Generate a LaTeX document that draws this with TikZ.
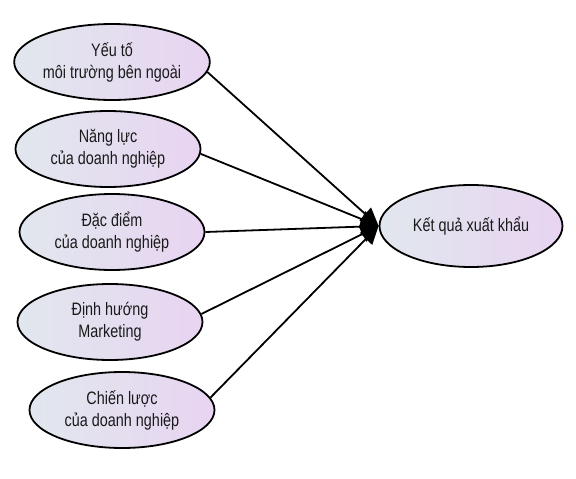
\documentclass[tikz,border=0pt]{standalone}
\usepackage{fontspec}
\setmainfont[FakeStretch=0.8]{Liberation Sans}
\usetikzlibrary{arrows.meta,shapes.geometric}
\definecolor{ellLeft}{HTML}{E1E7EE}
\definecolor{ellRight}{HTML}{E8D4F1}
\definecolor{txtGray}{HTML}{1A1A1A}

\begin{document}
\begin{tikzpicture}[
    x=1pt,y=-1pt,
    factor/.style={ellipse,draw=black,line width=1.8pt,left color=ellLeft,right color=ellRight,
                   minimum width=185pt,minimum height=76pt,inner sep=0pt,align=center,
                   font=\fontsize{18}{22}\selectfont,text=txtGray},
    arrow/.style={-{Triangle[length=18pt,width=17pt]},line width=1.8pt,draw=black}
  ]
    \useasboundingbox (0,0) rectangle (576,479);
    \node[factor] (f1) at (112,62)  {Yếu tố\\môi trường bên ngoài};
    \node[factor] (f2) at (108,149) {Năng lực\\của doanh nghiệp};
    \node[factor] (f3) at (112,232) {Đặc điểm\\của doanh nghiệp};
    \node[factor] (f4) at (110,322) {Định hướng\\Marketing};
    \node[factor] (f5) at (122,410) {Chiến lược\\của doanh nghiệp};
    \node[factor,minimum width=183pt,minimum height=82pt] (kq) at (471,226) {Kết quả xuất khẩu};
    \draw[arrow] (f1.-6) -- (kq.west); \draw[arrow] (f2.-3) -- (kq.west);
    \draw[arrow] (f3.east) -- (kq.west); \draw[arrow] (f4.5) -- (kq.west);
    \draw[arrow] (f5.8) -- (kq.west);
\end{tikzpicture}
\end{document}
